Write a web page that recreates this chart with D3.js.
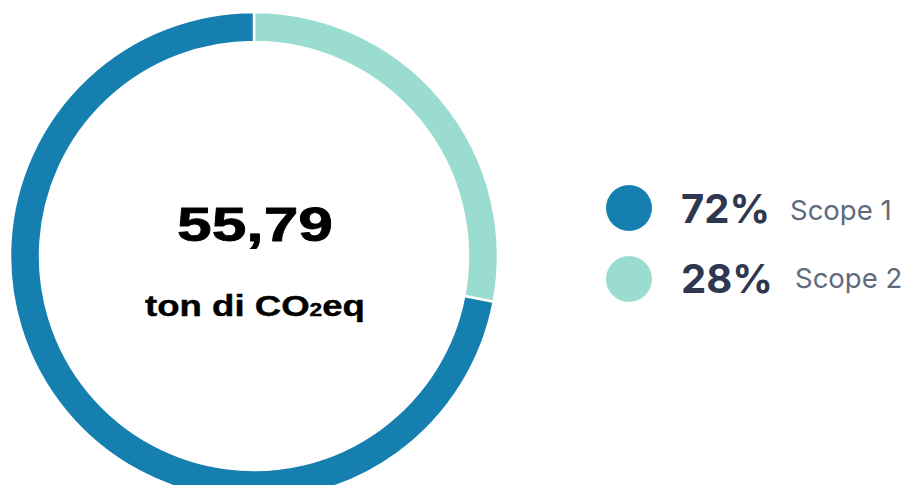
<!DOCTYPE html>
<html>
<head>
<meta charset="utf-8">
<script src="https://cdn.jsdelivr.net/npm/d3@7"></script>
<style>
	body { margin: 0; background: #ffffff; }
	svg { display: block; }
</style>
</head>
<body>
<div id="svg-container"></div>
<script>
// chart data
var scopes = ['Scope 1', 'Scope 2'];
var shares = [72, 28];
var scopeColors = ['#1580b0', '#9adccf'];
var totalLabel = '55,79';
var unitLabel = ['ton di CO', '2', 'eq'];

var width = 910, height = 485;
var cx = 254, cy = 256, outerR = 244, innerR = 214;

var svg = d3.select('#svg-container')
	.append('svg')
	.attr('width', width)
	.attr('height', height);

var data = scopes.map(function(s, i){ return {label: s, value: shares[i], color: scopeColors[i]}; });

// the light slice starts at 12 o'clock, so feed the pie in reverse order
var pie = d3.pie()
	.value(function(d){ return d.value; })
	.sort(null);

var arc = d3.arc()
	.innerRadius(innerR)
	.outerRadius(outerR);

var ring = svg.append('g')
	.attr('transform', 'translate(' + cx + ',' + cy + ')');

ring.selectAll('path')
	.data(pie(data.slice().reverse()))
	.enter()
	.append('path')
	.attr('d', arc)
	.attr('fill', function(d){ return d.data.color; })
	.attr('stroke', '#ffffff')
	.attr('stroke-width', 2.5);

// stretch a text element horizontally to a wanted width
function fitWidth(sel, x, y, w) {
	var bb = sel.node().getBBox();
	sel.attr('transform', 'translate(' + x + ',' + y + ') scale(' + (w / bb.width) + ',1)');
}

var big = svg.append('text')
	.attr('text-anchor', 'middle')
	.style('font-family', '"Liberation Sans", Arial, sans-serif')
	.style('font-weight', 'bold')
	.style('font-size', '49px')
	.style('stroke', '#000')
	.style('stroke-width', '0.8px')
	.style('fill', '#000')
	.text(totalLabel);
fitWidth(big, 255, 241, 156);

var unit = svg.append('text')
	.attr('text-anchor', 'middle')
	.style('font-family', '"Liberation Sans", Arial, sans-serif')
	.style('font-weight', 'bold')
	.style('font-size', '29px')
	.style('stroke', '#000')
	.style('stroke-width', '0.4px')
	.style('fill', '#000');
unit.append('tspan').text(unitLabel[0]);
unit.append('tspan').text(unitLabel[1]).style('font-size', '18px');
unit.append('tspan').text(unitLabel[2]);
fitWidth(unit, 255, 316, 220);

// legend
var legendY = [208, 279];
var legend = svg.selectAll('.legend')
	.data(data)
	.enter()
	.append('g')
	.attr('class', 'legend')
	.attr('transform', function(d, i){ return 'translate(0,' + legendY[i] + ')'; });

legend.append('circle')
	.attr('cx', 629)
	.attr('cy', 0)
	.attr('r', 23)
	.attr('fill', function(d){ return d.color; });

legend.append('text')
	.attr('x', 681)
	.attr('y', function(d, i){ return i == 0 ? 15 : 14; })
	.style('font-family', 'Inter, "Open Sans", sans-serif')
	.style('font-weight', 'bold')
	.style('font-size', '40px')
	.style('fill', '#2e3650')
	.text(function(d){ return d.value + '%'; });

legend.append('text')
	.attr('x', function(d, i){ return i == 0 ? 790 : 795; })
	.attr('y', function(d, i){ return i == 0 ? 12 : 9; })
	.style('font-family', 'Inter, "Open Sans", sans-serif')
	.style('font-size', '27.5px')
	.style('fill', '#5f6b7d')
	.text(function(d){ return d.label; });
</script>
</body>
</html>
